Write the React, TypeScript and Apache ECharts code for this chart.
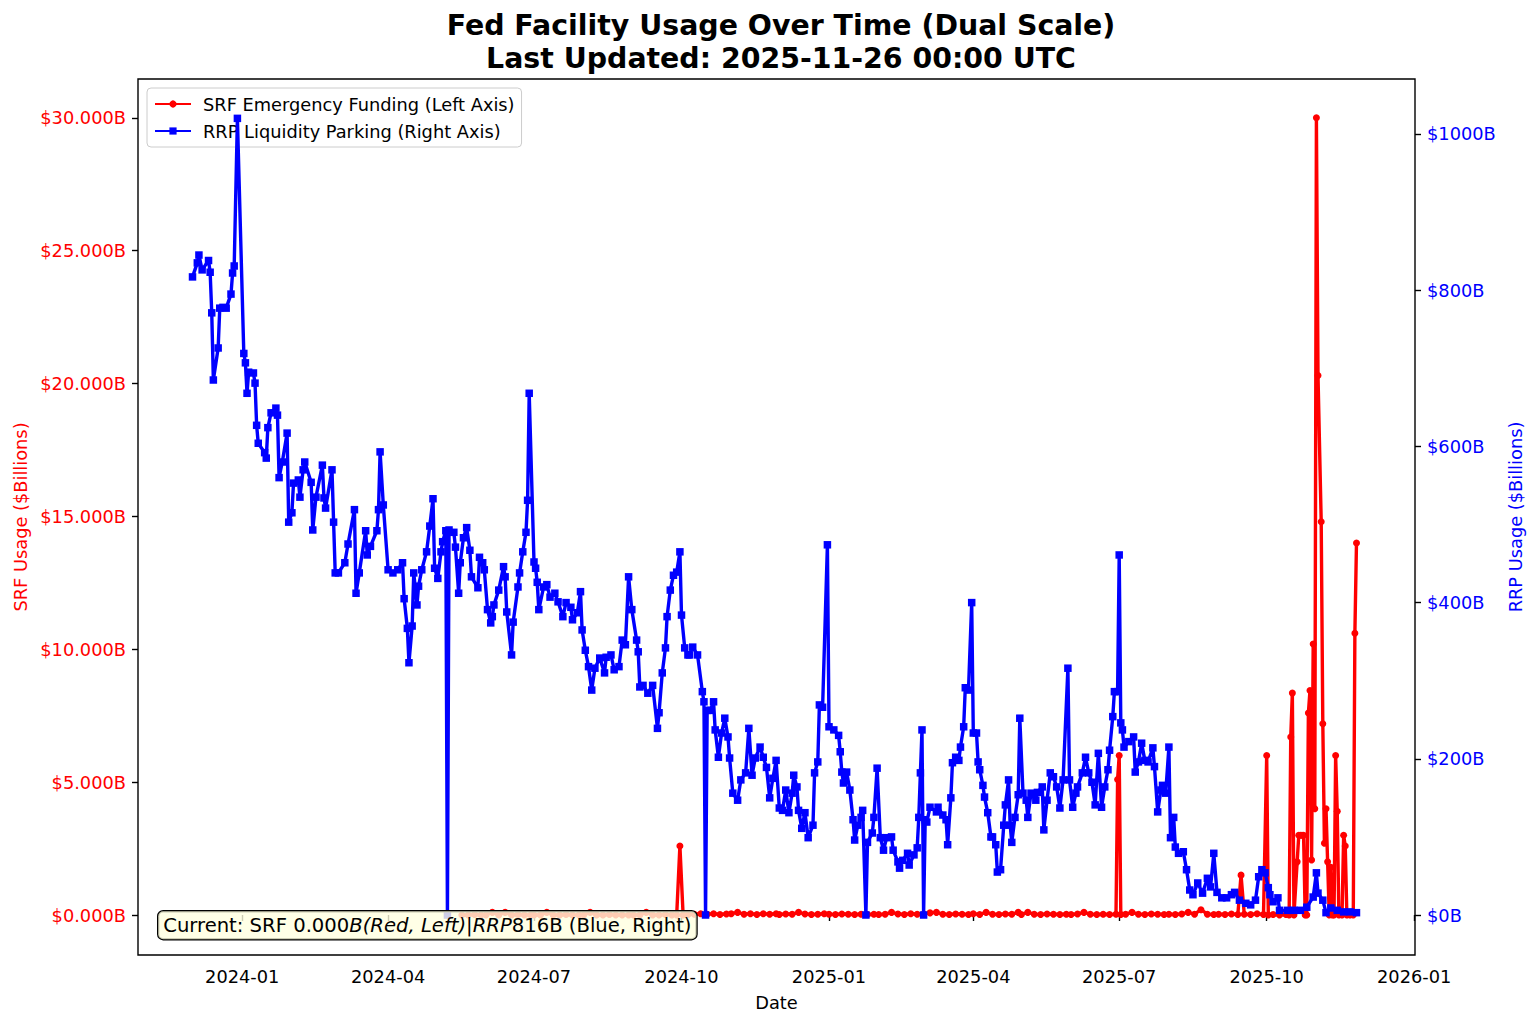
import React, { useEffect, useRef } from 'react';
import * as echarts from 'echarts';

const titleText = 'Fed Facility Usage Over Time (Dual Scale)\nLast Updated: 2025-11-26 00:00 UTC';
const srfName = 'SRF Emergency Funding (Left Axis)';
const rrpName = 'RRP Liquidity Parking (Right Axis)';
const xTickDates = ['2024-01-01', '2024-04-01', '2024-07-01', '2024-10-01', '2025-01-01', '2025-04-01', '2025-07-01', '2025-10-01', '2026-01-01'];
const xRange = ['2023-10-28T00:00:00Z', '2026-01-01T12:00:00Z'];
const srfTicks = [0, 5, 10, 15, 20, 25, 30];
const rrpTicks = [0, 200, 400, 600, 800, 1000];

// RRP usage ($B), right axis
const rrpSeries: [string, number][] = [
  ['2023-12-01', 817], ['2023-12-04', 835], ['2023-12-05', 845], ['2023-12-07', 826], ['2023-12-11', 838], ['2023-12-12', 823], ['2023-12-13', 771], ['2023-12-14', 685], ['2023-12-17', 726], ['2023-12-18', 777], ['2023-12-20', 778], ['2023-12-22', 777], ['2023-12-25', 795], ['2023-12-26', 822], ['2023-12-27', 831], ['2023-12-29', 1020],
  ['2024-01-02', 719], ['2024-01-03', 707], ['2024-01-04', 668], ['2024-01-05', 695], ['2024-01-08', 694], ['2024-01-09', 681], ['2024-01-10', 627], ['2024-01-11', 604], ['2024-01-15', 592], ['2024-01-16', 585], ['2024-01-17', 624], ['2024-01-19', 643], ['2024-01-22', 649], ['2024-01-23', 640], ['2024-01-24', 560], ['2024-01-26', 580], ['2024-01-29', 617], ['2024-01-30', 503],
  ['2024-02-01', 515], ['2024-02-02', 553], ['2024-02-05', 557], ['2024-02-06', 535], ['2024-02-08', 570], ['2024-02-09', 580], ['2024-02-13', 554], ['2024-02-14', 493], ['2024-02-16', 535], ['2024-02-20', 576], ['2024-02-21', 534], ['2024-02-22', 521], ['2024-02-26', 570], ['2024-02-27', 503], ['2024-02-28', 438],
  ['2024-03-01', 438], ['2024-03-05', 451], ['2024-03-07', 475], ['2024-03-11', 519], ['2024-03-12', 412], ['2024-03-14', 438], ['2024-03-18', 492], ['2024-03-19', 461], ['2024-03-21', 472], ['2024-03-25', 492], ['2024-03-26', 519], ['2024-03-27', 593], ['2024-03-29', 525],
  ['2024-04-01', 442], ['2024-04-04', 438], ['2024-04-07', 442], ['2024-04-10', 451], ['2024-04-11', 405], ['2024-04-13', 367], ['2024-04-14', 323], ['2024-04-16', 370], ['2024-04-17', 438], ['2024-04-19', 397], ['2024-04-20', 421], ['2024-04-22', 442], ['2024-04-25', 465], ['2024-04-27', 498], ['2024-04-29', 533], ['2024-04-30', 444],
  ['2024-05-02', 431], ['2024-05-04', 465], ['2024-05-05', 478], ['2024-05-07', 492], ['2024-05-08', 0], ['2024-05-09', 493], ['2024-05-12', 490], ['2024-05-13', 471], ['2024-05-15', 412], ['2024-05-16', 451], ['2024-05-18', 483], ['2024-05-20', 496], ['2024-05-22', 467], ['2024-05-23', 433], ['2024-05-27', 419], ['2024-05-28', 458], ['2024-05-30', 451], ['2024-05-31', 442],
  ['2024-06-02', 391], ['2024-06-04', 374], ['2024-06-05', 382], ['2024-06-06', 397], ['2024-06-09', 416], ['2024-06-12', 446], ['2024-06-13', 433], ['2024-06-14', 388], ['2024-06-17', 333], ['2024-06-18', 375], ['2024-06-21', 420], ['2024-06-22', 438], ['2024-06-24', 465], ['2024-06-26', 490], ['2024-06-27', 531], ['2024-06-28', 668],
  ['2024-07-01', 452], ['2024-07-02', 444], ['2024-07-03', 426], ['2024-07-04', 391], ['2024-07-07', 420], ['2024-07-09', 423], ['2024-07-11', 407], ['2024-07-14', 412], ['2024-07-16', 401], ['2024-07-19', 382], ['2024-07-21', 400], ['2024-07-24', 394], ['2024-07-25', 378], ['2024-07-28', 387], ['2024-07-30', 414], ['2024-07-31', 365],
  ['2024-08-02', 339], ['2024-08-04', 318], ['2024-08-06', 288], ['2024-08-08', 316], ['2024-08-11', 329], ['2024-08-14', 310], ['2024-08-15', 330], ['2024-08-18', 333], ['2024-08-20', 314], ['2024-08-23', 318], ['2024-08-25', 352], ['2024-08-27', 346], ['2024-08-29', 433], ['2024-08-31', 391],
  ['2024-09-03', 352], ['2024-09-04', 337], ['2024-09-05', 292], ['2024-09-07', 294], ['2024-09-10', 284], ['2024-09-13', 294], ['2024-09-16', 239], ['2024-09-17', 259], ['2024-09-19', 310], ['2024-09-21', 342], ['2024-09-22', 382], ['2024-09-24', 416], ['2024-09-26', 435], ['2024-09-28', 439], ['2024-09-30', 465],
  ['2024-10-01', 384], ['2024-10-03', 342], ['2024-10-05', 333], ['2024-10-06', 333], ['2024-10-08', 343], ['2024-10-11', 333], ['2024-10-14', 286], ['2024-10-15', 273], ['2024-10-16', 0], ['2024-10-17', 262], ['2024-10-19', 262], ['2024-10-21', 273], ['2024-10-22', 237], ['2024-10-24', 202], ['2024-10-26', 233], ['2024-10-28', 252], ['2024-10-30', 228], ['2024-10-31', 201],
  ['2024-11-02', 156], ['2024-11-05', 147], ['2024-11-07', 173], ['2024-11-10', 182], ['2024-11-12', 239], ['2024-11-14', 179], ['2024-11-16', 201], ['2024-11-19', 215], ['2024-11-21', 202], ['2024-11-23', 189], ['2024-11-25', 150], ['2024-11-27', 175], ['2024-11-29', 198],
  ['2024-12-01', 137], ['2024-12-03', 134], ['2024-12-05', 160], ['2024-12-07', 131], ['2024-12-09', 156], ['2024-12-10', 179], ['2024-12-12', 164], ['2024-12-13', 134], ['2024-12-15', 111], ['2024-12-17', 131], ['2024-12-19', 99], ['2024-12-22', 115], ['2024-12-23', 182], ['2024-12-25', 196], ['2024-12-26', 269], ['2024-12-28', 266], ['2024-12-31', 474],
  ['2025-01-01', 241], ['2025-01-04', 237], ['2025-01-07', 230], ['2025-01-08', 209], ['2025-01-09', 183], ['2025-01-10', 169], ['2025-01-12', 183], ['2025-01-14', 160], ['2025-01-16', 122], ['2025-01-17', 96], ['2025-01-19', 115], ['2025-01-21', 125], ['2025-01-22', 134], ['2025-01-24', 0], ['2025-01-25', 93], ['2025-01-28', 105], ['2025-01-29', 125], ['2025-01-31', 188],
  ['2025-02-02', 99], ['2025-02-04', 83], ['2025-02-06', 99], ['2025-02-09', 100], ['2025-02-10', 83], ['2025-02-13', 68], ['2025-02-14', 60], ['2025-02-16', 70], ['2025-02-19', 79], ['2025-02-20', 64], ['2025-02-23', 77], ['2025-02-25', 86], ['2025-02-26', 125], ['2025-02-27', 182], ['2025-02-28', 237],
  ['2025-03-01', 0], ['2025-03-02', 122], ['2025-03-03', 119], ['2025-03-05', 138], ['2025-03-09', 132], ['2025-03-10', 138], ['2025-03-13', 128], ['2025-03-15', 122], ['2025-03-16', 90], ['2025-03-18', 150], ['2025-03-19', 195], ['2025-03-21', 202], ['2025-03-23', 198], ['2025-03-24', 215], ['2025-03-26', 241], ['2025-03-27', 291], ['2025-03-29', 288], ['2025-03-31', 400],
  ['2025-04-01', 233], ['2025-04-03', 233], ['2025-04-04', 196], ['2025-04-05', 186], ['2025-04-07', 166], ['2025-04-08', 151], ['2025-04-10', 131], ['2025-04-12', 100], ['2025-04-13', 100], ['2025-04-15', 90], ['2025-04-16', 55], ['2025-04-18', 58], ['2025-04-20', 115], ['2025-04-21', 141], ['2025-04-23', 173], ['2025-04-24', 115], ['2025-04-25', 93], ['2025-04-27', 125], ['2025-04-29', 154], ['2025-04-30', 252],
  ['2025-05-02', 156], ['2025-05-04', 147], ['2025-05-05', 125], ['2025-05-07', 156], ['2025-05-10', 147], ['2025-05-11', 157], ['2025-05-14', 164], ['2025-05-15', 109], ['2025-05-17', 147], ['2025-05-19', 182], ['2025-05-21', 177], ['2025-05-23', 164], ['2025-05-25', 137], ['2025-05-27', 173], ['2025-05-30', 316], ['2025-05-31', 173],
  ['2025-06-02', 138], ['2025-06-04', 156], ['2025-06-05', 164], ['2025-06-08', 182], ['2025-06-10', 202], ['2025-06-12', 182], ['2025-06-14', 170], ['2025-06-16', 141], ['2025-06-18', 207], ['2025-06-20', 138], ['2025-06-22', 164], ['2025-06-24', 186], ['2025-06-25', 211], ['2025-06-27', 254], ['2025-06-28', 286], ['2025-06-30', 286],
  ['2025-07-01', 461], ['2025-07-02', 246], ['2025-07-03', 237], ['2025-07-04', 215], ['2025-07-07', 222], ['2025-07-10', 228], ['2025-07-11', 183], ['2025-07-13', 196], ['2025-07-15', 220], ['2025-07-17', 198], ['2025-07-19', 196], ['2025-07-22', 214], ['2025-07-23', 190], ['2025-07-25', 132], ['2025-07-27', 160], ['2025-07-28', 166], ['2025-07-30', 156],
  ['2025-08-01', 215], ['2025-08-02', 99], ['2025-08-04', 125], ['2025-08-05', 87], ['2025-08-07', 79], ['2025-08-10', 81], ['2025-08-12', 58], ['2025-08-14', 32], ['2025-08-16', 26], ['2025-08-19', 41], ['2025-08-22', 28], ['2025-08-25', 47], ['2025-08-27', 36], ['2025-08-29', 79], ['2025-08-31', 29],
  ['2025-09-03', 22], ['2025-09-06', 22], ['2025-09-09', 26], ['2025-09-11', 29], ['2025-09-14', 19], ['2025-09-18', 15], ['2025-09-21', 13], ['2025-09-24', 19], ['2025-09-26', 49], ['2025-09-28', 58], ['2025-09-30', 54],
  ['2025-10-02', 35], ['2025-10-03', 26], ['2025-10-05', 17], ['2025-10-08', 22], ['2025-10-09', 6], ['2025-10-14', 6], ['2025-10-18', 6], ['2025-10-22', 6], ['2025-10-26', 10], ['2025-10-30', 23],
  ['2025-11-01', 54], ['2025-11-02', 28], ['2025-11-05', 19], ['2025-11-07', 3], ['2025-11-10', 9], ['2025-11-14', 6], ['2025-11-18', 4], ['2025-11-22', 4], ['2025-11-26', 3],
];

// SRF usage ($B), left axis
const srfSeries: [string, number][] = [
  ['2024-05-17', 0], ['2024-05-21', 0], ['2024-05-25', 0.02], ['2024-05-29', 0],
  ['2024-06-01', 0], ['2024-06-05', 0.1], ['2024-06-09', 0], ['2024-06-13', 0.1], ['2024-06-17', 0], ['2024-06-21', 0.02], ['2024-06-25', 0], ['2024-06-29', 0],
  ['2024-07-01', 0], ['2024-07-05', 0], ['2024-07-09', 0.1], ['2024-07-13', 0], ['2024-07-17', 0], ['2024-07-21', 0.02], ['2024-07-25', 0], ['2024-07-29', 0],
  ['2024-08-01', 0], ['2024-08-05', 0.1], ['2024-08-09', 0], ['2024-08-13', 0], ['2024-08-17', 0.02], ['2024-08-21', 0], ['2024-08-25', 0], ['2024-08-29', 0],
  ['2024-09-01', 0], ['2024-09-05', 0], ['2024-09-09', 0.1], ['2024-09-13', 0], ['2024-09-17', 0], ['2024-09-21', 0.02], ['2024-09-25', 0], ['2024-09-28', 0], ['2024-09-30', 2.6],
  ['2024-10-02', 0], ['2024-10-05', 0.02], ['2024-10-09', 0.03], ['2024-10-13', 0.05], ['2024-10-17', 0.03], ['2024-10-21', 0.05], ['2024-10-25', 0.02], ['2024-10-29', 0.04],
  ['2024-11-01', 0.05], ['2024-11-05', 0.1], ['2024-11-09', 0.03], ['2024-11-13', 0.05], ['2024-11-17', 0.02], ['2024-11-21', 0.05], ['2024-11-25', 0.03], ['2024-11-29', 0.05],
  ['2024-12-01', 0.02], ['2024-12-05', 0.04], ['2024-12-09', 0.03], ['2024-12-13', 0.1], ['2024-12-17', 0.04], ['2024-12-21', 0.02], ['2024-12-25', 0.03], ['2024-12-29', 0.05],
  ['2025-01-01', 0.03], ['2025-01-05', 0.02], ['2025-01-09', 0.04], ['2025-01-13', 0.03], ['2025-01-17', 0.02], ['2025-01-21', 0.03], ['2025-01-25', 0.02], ['2025-01-29', 0.03],
  ['2025-02-01', 0.02], ['2025-02-05', 0.03], ['2025-02-09', 0.1], ['2025-02-13', 0.04], ['2025-02-17', 0.02], ['2025-02-21', 0.05], ['2025-02-25', 0.03],
  ['2025-03-01', 0.04], ['2025-03-05', 0.08], ['2025-03-09', 0.1], ['2025-03-13', 0.03], ['2025-03-17', 0.02], ['2025-03-21', 0.04], ['2025-03-25', 0.03], ['2025-03-29', 0.02],
  ['2025-04-01', 0.05], ['2025-04-05', 0.02], ['2025-04-09', 0.1], ['2025-04-13', 0.03], ['2025-04-17', 0.02], ['2025-04-21', 0.04], ['2025-04-25', 0.03], ['2025-04-29', 0.1],
  ['2025-05-01', 0.02], ['2025-05-05', 0.1], ['2025-05-09', 0.03], ['2025-05-13', 0.02], ['2025-05-17', 0.04], ['2025-05-21', 0.03], ['2025-05-25', 0.02], ['2025-05-29', 0.03],
  ['2025-06-01', 0.02], ['2025-06-05', 0.04], ['2025-06-09', 0.1], ['2025-06-13', 0.03], ['2025-06-17', 0.02], ['2025-06-21', 0.03], ['2025-06-25', 0.02], ['2025-06-29', 0.03], ['2025-06-30', 5.1],
  ['2025-07-01', 6.0], ['2025-07-02', 0.02], ['2025-07-05', 0.03], ['2025-07-09', 0.1], ['2025-07-13', 0.03], ['2025-07-17', 0.02], ['2025-07-21', 0.04], ['2025-07-25', 0.03], ['2025-07-29', 0.02],
  ['2025-08-01', 0.03], ['2025-08-05', 0.02], ['2025-08-09', 0.04], ['2025-08-13', 0.1], ['2025-08-17', 0.03], ['2025-08-21', 0.2], ['2025-08-25', 0.03], ['2025-08-29', 0.02],
  ['2025-09-01', 0.03], ['2025-09-05', 0.02], ['2025-09-09', 0.04], ['2025-09-13', 0.02], ['2025-09-15', 1.5], ['2025-09-17', 0.03], ['2025-09-21', 0.02], ['2025-09-25', 0.05], ['2025-09-29', 0.02],
  ['2025-10-01', 6.0], ['2025-10-02', 0], ['2025-10-05', 0.02], ['2025-10-09', 0], ['2025-10-13', 0.02], ['2025-10-15', 0], ['2025-10-16', 6.7], ['2025-10-17', 8.35], ['2025-10-18', 0], ['2025-10-20', 2.0], ['2025-10-21', 3.0], ['2025-10-22', 3.0], ['2025-10-23', 3.0], ['2025-10-24', 3.0], ['2025-10-25', 0], ['2025-10-26', 0], ['2025-10-27', 7.6], ['2025-10-28', 8.45], ['2025-10-29', 2.07], ['2025-10-30', 10.2], ['2025-10-31', 4.0],
  ['2025-11-01', 30.0], ['2025-11-02', 20.3], ['2025-11-04', 14.8], ['2025-11-05', 7.2], ['2025-11-06', 2.7], ['2025-11-07', 4.0], ['2025-11-08', 2.0], ['2025-11-09', 0], ['2025-11-10', 1.8], ['2025-11-11', 0], ['2025-11-12', 0], ['2025-11-13', 6.0], ['2025-11-14', 3.9], ['2025-11-15', 0], ['2025-11-17', 0], ['2025-11-18', 3.0], ['2025-11-19', 2.6], ['2025-11-20', 0], ['2025-11-22', 0], ['2025-11-24', 0], ['2025-11-25', 10.6], ['2025-11-26', 14.0],
];

const annotationText = '{n|Current: SRF 0.000}{i|B(Red, Left)|RRP}{n|816B (Blue, Right)}';

const toTs = (s: string) => Date.parse(s.length <= 10 ? s + 'T00:00:00Z' : s);

export default function App() {
  const ref = useRef<HTMLDivElement>(null);
  useEffect(() => {
    if (!ref.current) return;
    const chart = echarts.init(ref.current, null, { renderer: 'svg' });
    const font = 'DejaVu Sans';
    const fs = 17.8;
    const afs = 19.6;
    const pad2 = (n: number) => (n < 10 ? '0' + n : '' + n);
    const xTicks = xTickDates.map(toTs);
    chart.setOption({
      animation: false,
      backgroundColor: '#ffffff',
      textStyle: { fontFamily: font },
      title: {
        text: titleText,
        left: 776,
        top: 4,
        textAlign: 'center',
        textStyle: { fontFamily: font, fontSize: 28.4, fontWeight: 'bold', color: '#000', lineHeight: 33 },
      },
      legend: {
        orient: 'vertical',
        left: 147,
        top: 88,
        z: 1,
        padding: [7, 7, 7, 7],
        itemWidth: 36,
        itemHeight: 9,
        itemGap: 9,
        backgroundColor: 'rgba(255,255,255,0.8)',
        borderColor: '#cccccc',
        borderWidth: 1,
        borderRadius: 4,
        textStyle: { fontFamily: font, fontSize: fs, color: '#000', lineHeight: 18, padding: [0, 0, 0, 7] },
        data: [srfName, rrpName],
      },
      grid: { left: 138, right: 121, top: 79, bottom: 69, show: true, borderColor: '#000', borderWidth: 1.4, backgroundColor: 'transparent' },
      xAxis: {
        type: 'value',
        min: toTs(xRange[0]),
        max: toTs(xRange[1]),
        name: 'Date',
        nameLocation: 'middle',
        nameGap: 38,
        nameTextStyle: { fontFamily: font, fontSize: fs, color: '#000', verticalAlign: 'top' },
        axisLine: { show: false },
        axisTick: { show: true, inside: false, length: 6, lineStyle: { color: '#000', width: 1.4 }, customValues: xTicks },
        axisLabel: {
          customValues: xTicks,
          margin: 12,
          fontFamily: font,
          fontSize: fs,
          color: '#000',
          formatter: (v: number) => {
            const d = new Date(v);
            return d.getUTCFullYear() + '-' + pad2(d.getUTCMonth() + 1);
          },
        },
        splitLine: { show: false },
      },
      yAxis: [
        {
          type: 'value',
          position: 'left',
          min: -1.505,
          max: 31.46,
          name: 'SRF Usage ($Billions)',
          nameLocation: 'middle',
          nameRotate: 90,
          nameGap: 107,
          nameTextStyle: { fontFamily: font, fontSize: fs, color: '#ff0000' },
          axisLine: { show: false },
          axisTick: { show: true, inside: false, length: 6, lineStyle: { color: '#000', width: 1.4 }, customValues: srfTicks },
          axisLabel: {
            customValues: srfTicks,
            margin: 12,
            fontFamily: font,
            fontSize: fs,
            color: '#ff0000',
            formatter: (v: number) => '$' + v.toFixed(3) + 'B',
          },
          splitLine: { show: false },
        },
        {
          type: 'value',
          position: 'right',
          min: -51.2,
          max: 1070.4,
          name: 'RRP Usage ($Billions)',
          nameLocation: 'middle',
          nameRotate: 90,
          nameGap: 89,
          nameTextStyle: { fontFamily: font, fontSize: fs, color: '#0000ff' },
          axisLine: { show: false },
          axisTick: { show: true, inside: false, length: 6, lineStyle: { color: '#000', width: 1.4 }, customValues: rrpTicks },
          axisLabel: {
            customValues: rrpTicks,
            margin: 12,
            fontFamily: font,
            fontSize: fs,
            color: '#0000ff',
            formatter: (v: number) => '$' + Math.round(v) + 'B',
          },
          splitLine: { show: false },
        },
      ],
      series: [
        {
          name: srfName,
          type: 'line',
          yAxisIndex: 0,
          z: 2,
          data: srfSeries.map(([d, v]) => [toTs(d), v]),
          symbol: 'circle',
          symbolSize: 7,
          lineStyle: { color: '#ff0000', width: 3.4 },
          itemStyle: { color: '#ff0000' },
          emphasis: { disabled: true },
        },
        {
          name: rrpName,
          type: 'line',
          yAxisIndex: 1,
          z: 3,
          data: rrpSeries.map(([d, v]) => [toTs(d), v]),
          symbol: 'rect',
          symbolSize: 7.5,
          lineStyle: { color: '#0000ff', width: 3.4 },
          itemStyle: { color: '#0000ff' },
          emphasis: { disabled: true },
        },
      ],
      graphic: [
        {
          type: 'text',
          left: 157,
          top: 910,
          z: 10,
          style: {
            text: annotationText,
            rich: {
              n: { fontFamily: font, fontSize: afs, fill: '#000', color: '#000' },
              i: { fontFamily: font, fontSize: afs, fontStyle: 'italic', fill: '#000', color: '#000' },
            },
            backgroundColor: 'rgba(255,255,224,0.8)',
            borderColor: '#000',
            borderWidth: 1.2,
            borderRadius: 5,
            padding: [4, 5, 4, 5],
          },
        },
      ],
    });
    return () => chart.dispose();
  }, []);
  return <div ref={ref} style={{ position: 'absolute', left: 0, top: 0, width: 1536, height: 1024, background: '#fff' }} />;
}
